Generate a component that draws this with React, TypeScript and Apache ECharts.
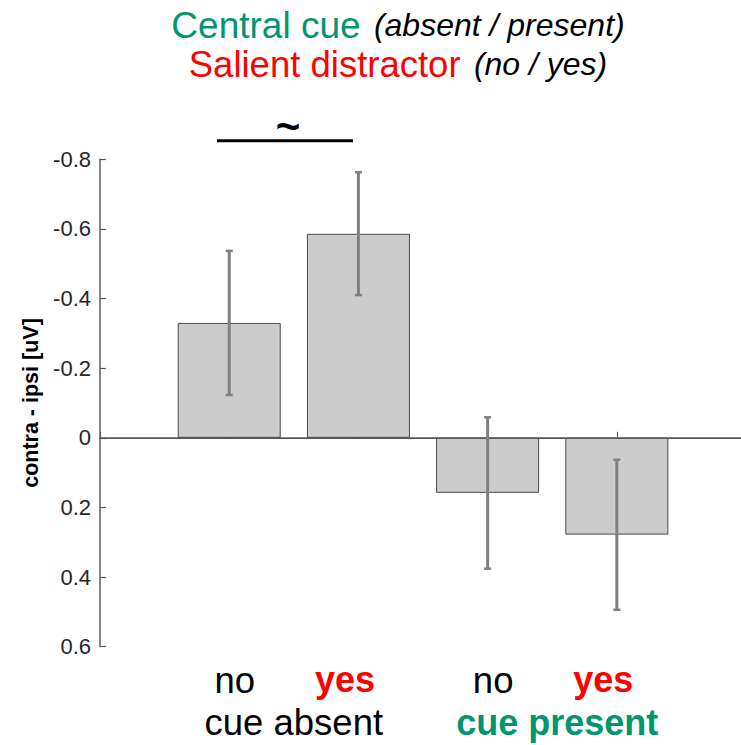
import React, { useEffect, useRef } from "react";
import * as echarts from "echarts";

const conditionLabels = ["no", "yes", "no", "yes"];
const conditionPositions = [1, 2, 3, 4];
const groupLabels = ["cue absent", "cue present"];
const groupPositions = [1.5, 3.5];
const meanValues = [-0.33, -0.586, 0.158, 0.278];
const errorLow = [-0.537, -0.763, -0.059, 0.063];
const errorHigh = [-0.123, -0.41, 0.376, 0.494];
const yTicks = [-0.8, -0.6, -0.4, -0.2, 0, 0.2, 0.4, 0.6];

const FONT = "'Liberation Sans', Arial, Helvetica, sans-serif";
const GREEN = "#00966e";
const RED = "#ff0000";
const AXIS = "#5a5a5a";

export default function App() {
  const ref = useRef<HTMLDivElement>(null);

  useEffect(() => {
    if (!ref.current) return;
    const chart = echarts.init(ref.current, null, { renderer: "svg" });

    const barData = conditionPositions.map((p, i) => [p, meanValues[i]]);
    const errData = conditionPositions.map((p, i) => [p, errorLow[i], errorHigh[i]]);

    const option: any = {
      animation: false,
      backgroundColor: "#ffffff",
      textStyle: { fontFamily: FONT },
      grid: { left: 100, top: 159.3, right: 0, height: 487.4, containLabel: false },
      graphic: [
        {
          type: "text",
          x: 398,
          y: 25,
          style: {
            text: "{g|Central cue}{s| }{i|(absent / present)}",
            align: "center",
            verticalAlign: "middle",
            rich: {
              g: { fontSize: 37, fontFamily: FONT, fill: GREEN, color: GREEN },
              s: { fontSize: 48, fontFamily: FONT },
              i: { fontSize: 32, fontFamily: FONT, fontStyle: "italic", fill: "#000", color: "#000" },
            },
          },
        },
        {
          type: "text",
          x: 398,
          y: 64,
          style: {
            text: "{r|Salient distractor}{s| }{i|(no / yes)}",
            align: "center",
            verticalAlign: "middle",
            rich: {
              r: { fontSize: 36.5, fontFamily: FONT, fill: RED, color: RED },
              s: { fontSize: 48, fontFamily: FONT },
              i: { fontSize: 32, fontFamily: FONT, fontStyle: "italic", fill: "#000", color: "#000" },
            },
          },
        },
        {
          type: "line",
          shape: { x1: 217, y1: 140.7, x2: 353, y2: 140.7 },
          style: { stroke: "#000", lineWidth: 3 },
        },
        {
          type: "text",
          x: 288,
          y: 126,
          style: {
            text: "~",
            align: "center",
            verticalAlign: "middle",
            fontSize: 42,
            fontWeight: "bold",
            fontFamily: FONT,
            fill: "#000",
          },
        },
      ],
      xAxis: [
        {
          type: "value",
          min: 0,
          max: 4.961,
          interval: 1,
          splitLine: { show: false },
          axisLine: { show: true, lineStyle: { color: AXIS, width: 1.5 } },
          axisTick: { show: true, inside: true, length: 6, lineStyle: { color: AXIS, width: 1.2 } },
          axisLabel: {
            margin: 15,
            fontSize: 36,
            fontFamily: FONT,
            color: "#000",
            showMaxLabel: false,
            formatter: (v: number) => {
              const idx = conditionPositions.indexOf(Math.round(v * 10) / 10);
              if (idx < 0) return "";
              return idx % 2 === 0 ? `{n|${conditionLabels[idx]}}` : `{y|${conditionLabels[idx]}}`;
            },
            rich: {
              n: { fontSize: 36.5, fontFamily: FONT, color: "#000", padding: [0, 0, 0, 11] },
              y: { fontSize: 36, fontFamily: FONT, color: RED, fontWeight: "bold", padding: [0, 27, 0, 0] },
            },
          },
        },
        {
          type: "value",
          min: 0,
          max: 4.961,
          interval: 0.5,
          position: "bottom",
          splitLine: { show: false },
          axisLine: { show: false },
          axisTick: { show: false },
          axisLabel: {
            margin: 63,
            fontSize: 36,
            lineHeight: 26,
            fontFamily: FONT,
            color: "#000",
            showMaxLabel: false,
            formatter: (v: number) => {
              const idx = groupPositions.indexOf(Math.round(v * 10) / 10);
              if (idx < 0) return "";
              return idx === 0 ? `{a|${groupLabels[idx]}}` : `{p|${groupLabels[idx]}}`;
            },
            rich: {
              a: { fontSize: 36.5, lineHeight: 26, fontFamily: FONT, color: "#000" },
              p: { fontSize: 36, lineHeight: 26, fontFamily: FONT, color: GREEN, fontWeight: "bold", padding: [0, 0, 0, 10] },
            },
          },
        },
      ],
      yAxis: {
        type: "value",
        inverse: true,
        min: yTicks[0],
        max: yTicks[yTicks.length - 1],
        interval: 0.2,
        name: "contra - ipsi [uV]",
        nameLocation: "middle",
        nameGap: 57,
        nameTextStyle: { fontSize: 21.5, fontWeight: "bold", fontFamily: FONT, color: "#000" },
        splitLine: { show: false },
        axisLine: { show: true, lineStyle: { color: AXIS, width: 1.5 } },
        axisTick: { show: true, inside: true, length: 6, lineStyle: { color: AXIS, width: 1.2 } },
        axisLabel: {
          margin: 9,
          fontSize: 22,
          fontFamily: FONT,
          color: "#262626",
          formatter: (v: number) => String(Math.round(v * 10) / 10 || 0),
        },
      },
      series: [
        {
          type: "bar",
          xAxisIndex: 0,
          data: barData,
          barWidth: 103,
          itemStyle: { color: "#cccccc", borderColor: "#4a4a4a", borderWidth: 1 },
          markLine: {
            silent: true,
            symbol: ["none", "none"],
            label: { show: false },
            lineStyle: { color: "#555555", width: 1, type: "solid" },
            data: [{ yAxis: 0 }],
          },
        },
        {
          type: "custom",
          xAxisIndex: 0,
          data: errData,
          z: 5,
          renderItem: (params: any, api: any) => {
            const x = api.value(0);
            const lo = api.coord([x, api.value(1)]);
            const hi = api.coord([x, api.value(2)]);
            const cap = 3.5;
            const st = { stroke: "#808080", lineWidth: 3 };
            return {
              type: "group",
              children: [
                { type: "line", shape: { x1: lo[0], y1: lo[1], x2: hi[0], y2: hi[1] }, style: st },
                { type: "line", shape: { x1: lo[0] - cap, y1: lo[1], x2: lo[0] + cap, y2: lo[1] }, style: { ...st, lineWidth: 2.5 } },
                { type: "line", shape: { x1: hi[0] - cap, y1: hi[1], x2: hi[0] + cap, y2: hi[1] }, style: { ...st, lineWidth: 2.5 } },
              ],
            };
          },
        },
      ],
    };

    chart.setOption(option);
    return () => chart.dispose();
  }, []);

  return (
    <div
      ref={ref}
      style={{ position: "fixed", left: 0, top: 0, width: 741, height: 745, background: "#fff" }}
    />
  );
}
